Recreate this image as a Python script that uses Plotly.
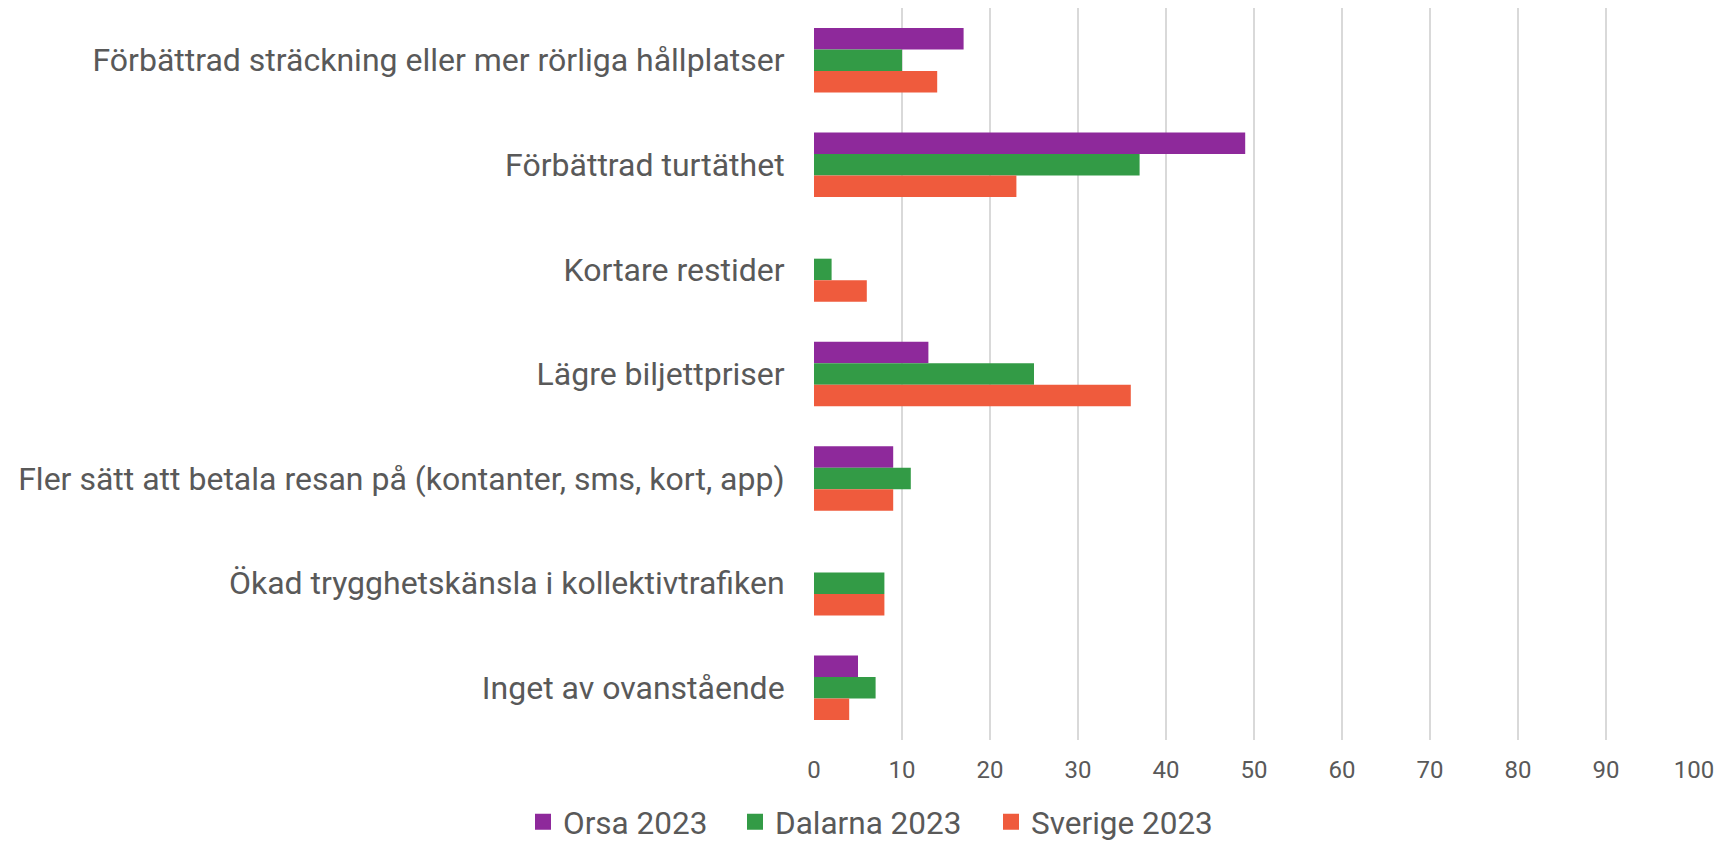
import plotly.graph_objects as go

categories = [
    "Förbättrad sträckning eller mer rörliga hållplatser",
    "Förbättrad turtäthet",
    "Kortare restider",
    "Lägre biljettpriser",
    "Fler sätt att betala resan på (kontanter, sms, kort, app)",
    "Ökad trygghetskänsla i kollektivtrafiken",
    "Inget av ovanstående",
]
orsa_2023 = [17, 49, None, 13, 9, None, 5]
dalarna_2023 = [10, 37, 2, 25, 11, 8, 7]
sverige_2023 = [14, 23, 6, 36, 9, 8, 4]

series = [
    ("Orsa 2023", orsa_2023, "#8E299B", 167),
    ("Dalarna 2023", dalarna_2023, "#339B46", 211),
    ("Sverige 2023", sverige_2023, "#EF5B3D", 190),
]

fig = go.Figure()
for name, vals, color, _ in series:
    fig.add_trace(go.Bar(
        y=categories, x=vals, name=name, orientation="h",
        marker=dict(color=color, line=dict(width=0)),
        showlegend=False,
    ))
# legend entries with larger square swatches
for name, vals, color, lw in series:
    fig.add_trace(go.Scatter(
        x=[None], y=[None], mode="markers", name=name,
        marker=dict(symbol="square", size=16, color=color),
        showlegend=True, hoverinfo="skip", legendwidth=lw,
    ))

font_family = "Roboto, Arial, sans-serif"
fig.update_layout(
    width=1716, height=833,
    barmode="group", bargap=0.383, bargroupgap=0,
    plot_bgcolor="white", paper_bgcolor="white",
    margin=dict(l=806, r=30, t=0, b=101, autoexpand=False),
    font=dict(family=font_family, color="#595959"),
    xaxis=dict(
        range=[0, 100], dtick=10, tick0=0,
        showgrid=True, gridcolor="#D9D9D9", gridwidth=1.5,
        zeroline=False, showline=False,
        tickfont=dict(size=24, color="#595959"),
        ticks="outside", ticklen=8, tickcolor="rgba(0,0,0,0)",
    ),
    yaxis=dict(
        autorange="reversed", showgrid=False, zeroline=False, showline=False,
        tickfont=dict(size=32, color="#595959"),
        ticks="outside", ticklen=22, tickcolor="rgba(0,0,0,0)",
    ),
    legend=dict(
        orientation="h", xref="container", yref="container",
        x=515 / 1716, xanchor="left", y=0.023, yanchor="middle",
        font=dict(size=31.5, color="#595959"),
        traceorder="normal", itemwidth=30,
    ),
    showlegend=True,
)

fig.write_html("out.html")
